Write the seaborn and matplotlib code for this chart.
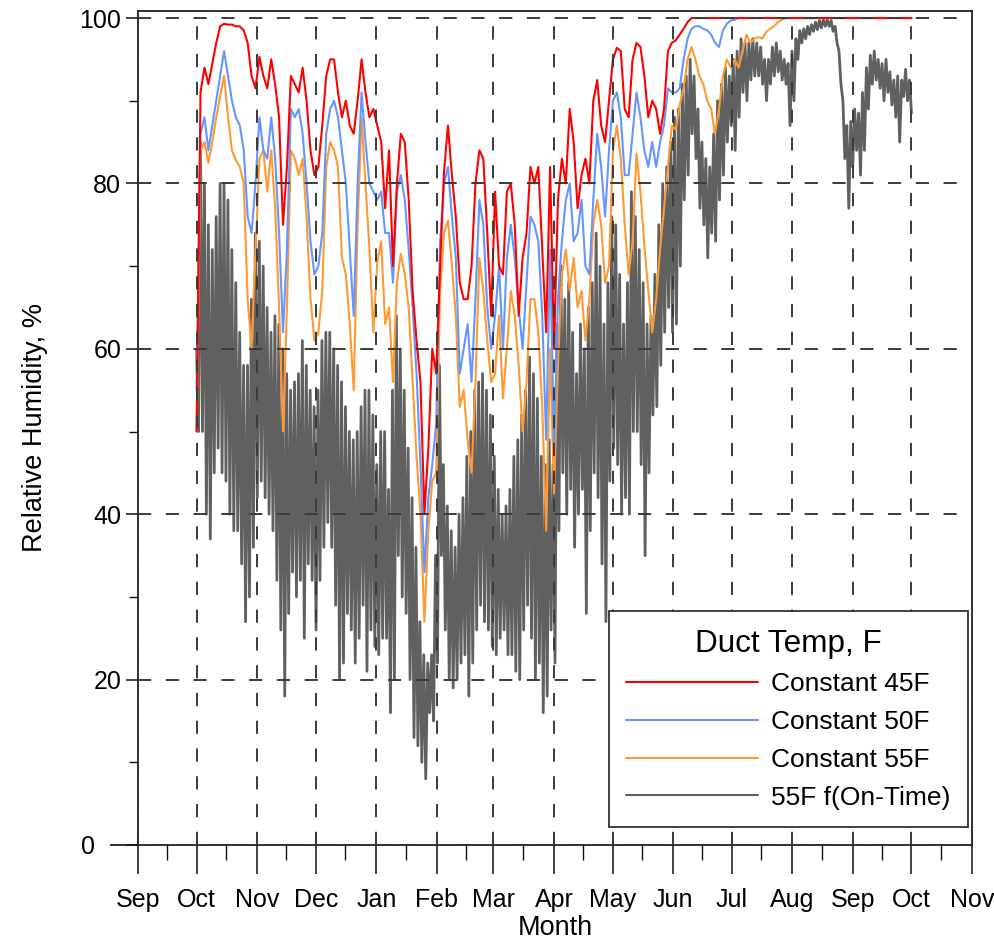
import numpy as np
import pandas as pd
import matplotlib
matplotlib.use("Agg")
import matplotlib.pyplot as plt
import matplotlib.dates as mdates
from matplotlib.ticker import MultipleLocator
from matplotlib.transforms import ScaledTranslation
import seaborn as sns

# ---------------- data (~2-day steps Oct 1 -> Oct 1) -------------
red_45 = [
    # Oct
    50, 91, 94, 92, 94.5, 97, 99, 99.3, 99.2, 99.2, 99, 99, 98.5, 97, 93, 91.5,
    # Nov
    95.3, 93, 91.5, 95, 92, 88, 75, 82, 93, 92, 91, 94, 90, 84, 81,
    # Dec
    82, 87, 93, 95, 95, 91, 88, 90, 87, 86, 90, 95, 91, 88, 89,
    # Jan
    87, 85, 77, 84, 70, 80, 86, 85, 78, 67, 61, 56, 40, 48, 60, 57,
    # Feb
    70, 81.5, 87, 81, 76, 68, 66, 66, 70, 80, 84, 83, 74, 64,
    # Mar
    79, 70, 69, 79, 80, 75, 64, 71, 74, 82, 80, 82, 72, 62, 82,
    # Apr
    60, 78, 83, 80, 89, 85, 77, 81, 83, 80, 90, 92.5, 87, 85, 90,
    # May
    95, 96.4, 96, 89, 88, 95, 97, 96.5, 93, 88, 90, 89, 86, 89, 96, 97,
    # Jun
    97.3, 98, 98.7, 99.5, 100, 100, 100, 100, 100, 100, 100, 100, 100, 100, 100,
    # Jul
    100, 100, 100, 100, 100, 100, 100, 100, 100, 100, 100, 100, 100, 100, 100,
    # Aug
    100, 100, 100, 100, 100, 100, 100, 100, 100, 100, 100, 100, 100, 100, 100, 100,
    # Sep
    100, 100, 100, 100, 100, 100, 100, 100, 100, 100, 100, 100, 100, 100, 100,
]

blue_50 = [
    55, 86, 88, 84, 87, 90, 93, 96, 93, 90, 88, 87, 84, 76, 74, 80,
    88, 84, 83, 88, 83, 74, 62, 72, 89, 88, 89, 86, 80, 73, 69,
    70, 74, 86, 89, 90, 88, 84, 80, 72, 64, 80, 91, 85, 80, 79,
    78, 79, 74, 74, 68, 79, 81, 78, 72, 65, 57, 46, 33, 42, 46, 51,
    73, 80, 82, 76, 71, 57, 60, 63, 56, 66, 78, 75, 65, 60,
    64, 70, 60, 71, 75, 71, 65, 60, 68, 76, 75, 73, 64, 49, 72,
    48, 66, 73, 78, 80, 73, 74, 78, 70, 69, 78, 86, 82, 76, 84,
    90, 91, 88, 81, 81, 86, 91, 88, 84, 82, 85, 82, 85, 87, 91.5, 91,
    91, 91.5, 95, 97.5, 98.7, 99, 99, 98.7, 98.5, 98, 97, 96.5, 98.5, 99.3, 99.7,
    99.8, 100, 100, 100, 100, 100, 100, 100, 100, 100, 100, 100, 100, 100, 100,
    100, 100, 100, 100, 100, 100, 100, 100, 100, 100, 100, 100, 100, 100, 100, 100,
    100, 100, 100, 100, 100, 100, 100, 100, 100, 100, 100, 100, 100, 100, 100,
]

orange_55 = [
    50, 84, 85, 82.5, 85, 88, 90.6, 93, 88, 84, 82.8, 82, 80, 66, 60, 72,
    83, 84, 79, 84, 77, 65, 50, 65, 84, 83, 81, 83, 76, 66, 61,
    62, 67, 82, 85, 84, 82, 71, 69, 63, 55, 75, 88, 80, 72, 62,
    70.5, 73, 63, 65, 56, 68, 71.5, 69, 65, 56, 47, 40, 27, 38, 44, 45,
    67, 74, 75.5, 70, 64, 53, 55, 49, 45, 56, 71, 67, 61, 56,
    57, 64, 54, 60, 67, 64, 58, 50, 56, 66, 66, 62, 53, 38, 60,
    42.5, 58, 69, 72, 67, 71, 65, 67, 61, 66, 75, 78, 75, 68, 70,
    84, 87, 83, 75, 69, 73, 83.6, 79, 72.5, 67, 62, 66, 72, 77, 82, 87,
    86.5, 89.5, 91.5, 95, 96.5, 95, 93, 92, 90, 89, 86, 89, 93, 95, 94,
    95, 94, 96, 98, 97, 97.5, 97.7, 97.5, 98.3, 98.7, 99, 99.5, 99.8, 100, 100,
    100, 100, 100, 100, 100, 100, 100, 100, 100, 100, 100, 100, 100, 100, 100, 100,
    100, 100, 100, 100, 100, 100, 100, 100, 100, 100, 100, 100, 100, 100, 100,
]

# 55F f(On-Time): daily high / low pairs (every ~2 days)
gray_hi = [
    60, 85, 80, 75, 72, 76, 80, 80, 78, 72, 68, 62, 58, 58, 66, 74,
    73, 70, 65, 62, 64, 63, 60, 57, 55, 56, 57, 61, 58, 55, 53,
    55, 61, 62, 62, 60, 58, 56, 53, 50, 49, 50, 53, 55, 55, 52,
    46, 50, 50, 43, 55, 64, 60, 55, 48, 42, 36, 27, 23, 22, 23, 35,
    58, 46, 41, 38, 36, 40, 42, 47, 50, 55, 56, 57, 55, 52,
    47, 43, 40, 41, 43, 47, 49, 52, 55, 59, 57, 54, 47, 46, 49,
    46, 63, 70, 66, 68, 62, 57, 63, 60, 65, 68, 74, 70, 63, 68,
    76, 75, 69, 63, 68, 79, 76, 72, 68, 63, 64, 69, 75, 80, 82, 85,
    88, 89, 92, 93, 95, 93, 89, 85, 83, 82, 86, 90, 92, 94, 93,
    95, 96, 97.5, 97, 97, 97.5, 97, 96.5, 95, 95, 96.5, 97, 96, 95, 94.5,
    96, 97.5, 98.5, 98.7, 99, 99.2, 99.5, 99.7, 99.8, 99.8, 99.7, 99, 96, 90, 87, 87.5,
    89, 88.5, 91, 94, 95.5, 96, 95, 94.5, 95, 93.5, 92.5, 93, 92.5, 93.8, 92.5,
]
gray_lo = [
    50, 50, 40, 37, 45, 48, 45, 44, 40, 38, 38, 34, 27, 30, 36, 42,
    44, 42, 40, 38, 32, 26, 18, 28, 33, 30, 32, 25, 34, 32, 26,
    32, 36, 39, 36, 29, 20, 22, 28, 26, 22, 25, 29, 21, 26, 24,
    23, 25, 25, 16, 20, 35, 30, 28, 20, 13, 12, 10, 8, 16, 15, 22,
    35, 26, 20, 19, 20, 22, 23, 18, 22, 26, 29, 27, 26, 24,
    23, 25, 26, 23, 23, 21, 20, 26, 29, 25, 20, 22, 16, 18, 26,
    22, 38, 45, 40, 43, 36, 40, 43, 28, 38, 45, 42, 34, 27, 44,
    48, 46, 40, 42, 40, 50, 50, 46, 35, 45, 52, 53, 58, 62, 65, 62,
    63, 70, 78, 81, 86, 83, 77, 75, 71, 74, 73, 78, 81, 85, 87,
    84, 88, 91, 90, 92.5, 93, 93, 92, 90, 92, 93, 93.5, 92.5, 92, 87,
    90, 95, 97, 97.5, 98, 98.4, 98.6, 98.8, 99, 99, 98.4, 97, 92, 83, 77, 82,
    84, 81, 84, 89, 92, 92.5, 91.5, 90, 91, 89.5, 88, 85, 90.5, 90, 88.5,
]

series_labels = ["Constant 45F", "Constant 50F", "Constant 55F", "55F f(On-Time)"]
series_colors = ["#FF0000", "#6496FF", "#FF9933", "#606060"]
legend_title = "Duct Temp, F"
x_label = "Month"
y_label = "Relative Humidity, %"

# ---------------- figure ----------------
sns.set_style("white")
plt.rcParams["font.family"] = ["Liberation Sans", "DejaVu Sans"]
plt.rcParams["lines.scale_dashes"] = False
for k in ["text.color", "axes.labelcolor", "xtick.color", "ytick.color"]:
    plt.rcParams[k] = "black"

W, H, DPI = 994, 943, 100
fig = plt.figure(figsize=(W / DPI, H / DPI), dpi=DPI)
ax = fig.add_axes([138 / W, (H - 845) / H, 834 / W, 834 / H])

start, end = pd.Timestamp("2011-10-01"), pd.Timestamp("2012-10-01")
t_line = pd.date_range(start, end, periods=len(red_45))
df = pd.DataFrame({"date": t_line, series_labels[0]: red_45,
                   series_labels[1]: blue_50, series_labels[2]: orange_55})

gray_vals = np.column_stack([gray_hi, gray_lo]).ravel()
t_gray = pd.date_range(start, end, periods=len(gray_vals))
dg = pd.DataFrame({"date": t_gray, "rh": gray_vals})

sns.lineplot(data=dg, x="date", y="rh", ax=ax, color=series_colors[3], lw=2.0,
             estimator=None, sort=False, label=series_labels[3])
for lab, col in zip(series_labels[2::-1], series_colors[2::-1]):
    sns.lineplot(data=df, x="date", y=lab, ax=ax, color=col, lw=1.5,
                 estimator=None, sort=False, label=lab)

# axes limits / ticks
ax.set_xlim(mdates.date2num(pd.Timestamp("2011-09-01")),
            mdates.date2num(pd.Timestamp("2012-11-01")))
ax.set_ylim(0, 100.85)
ax.xaxis.set_major_locator(mdates.MonthLocator())
ax.xaxis.set_minor_locator(mdates.MonthLocator(bymonthday=16))
ax.xaxis.set_major_formatter(mdates.DateFormatter("%b"))
ax.yaxis.set_major_locator(MultipleLocator(20))
ax.yaxis.set_minor_locator(MultipleLocator(10))

ax.tick_params(which="both", bottom=True, left=True, top=False, right=False)
ax.tick_params(axis="x", which="major", direction="out", length=29 * 0.72,
               width=1.1, labelsize=18, pad=10, color="#111111")
ax.tick_params(axis="x", which="minor", direction="out", length=15 * 0.72,
               width=1.0, color="#111111")
ax.tick_params(axis="y", which="major", direction="out", length=12 * 0.72,
               width=1.1, labelsize=18, pad=3.5, color="#111111")
ax.tick_params(axis="y", which="minor", direction="out", length=9 * 0.72,
               width=1.0, color="#111111")

# inward part of major x ticks
sec = ax.secondary_xaxis("bottom")
sec.xaxis.set_major_locator(mdates.MonthLocator())
sec.tick_params(axis="x", which="major", bottom=True, direction="in",
                length=12 * 0.72, width=1.1, labelbottom=False, color="#111111")
sec.tick_params(axis="x", which="minor", bottom=False)
sec.spines["bottom"].set_visible(False)

# grid (drawn above data, as in the reference)
ax.set_axisbelow(False)
ax.grid(True, which="major", color="#3a3a3a", linestyle=(0, (9.5, 10.5)),
        linewidth=1.4)

for s in ax.spines.values():
    s.set_color("#202020")
    s.set_linewidth(1.3)
# bottom axis line extends left of the y axis
ax.spines["bottom"].set_bounds(mdates.date2num(pd.Timestamp("2011-08-18")),
                               mdates.date2num(pd.Timestamp("2012-11-01")))

ax.set_xlabel(x_label, fontsize=19.5)
ax.set_ylabel(y_label, fontsize=19.5)
ax.xaxis.set_label_coords(0.5, -0.0845)
ax.yaxis.set_label_coords(-0.108, 0.5)

# legend
handles, labels = ax.get_legend_handles_labels()
hmap = dict(zip(labels, handles))
leg = ax.legend([hmap[l] for l in series_labels], series_labels, title=legend_title,
                loc="lower right", bbox_to_anchor=(0.9952, 0.0216), borderaxespad=0,
                frameon=True, fancybox=False, edgecolor="#202020", framealpha=1,
                fontsize=19, title_fontsize=22.7, handlelength=5.0, handletextpad=0.5,
                labelspacing=0.52, borderpad=0.66)
leg.get_frame().set_linewidth(1.2)
for ln in leg.get_lines():
    ln.set_linewidth(1.5)

fig.canvas.draw()
# the "0" label sits left of the extended bottom axis line
for tk in ax.yaxis.get_major_ticks():
    if abs(tk.get_loc()) < 1e-9:
        tk.label1.set_transform(tk.label1.get_transform() +
                                ScaledTranslation(-26 / DPI, 0, fig.dpi_scale_trans))

fig.savefig("out.png", dpi=DPI)
